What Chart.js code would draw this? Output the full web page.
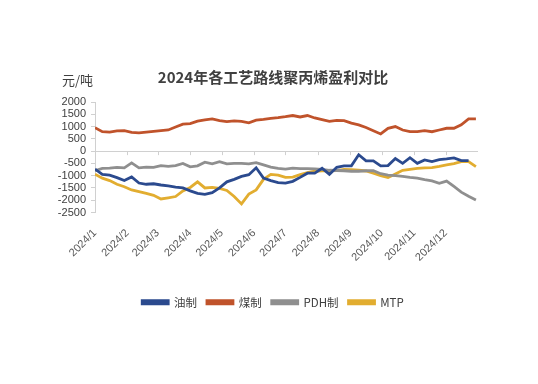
<!DOCTYPE html>
<html>
<head>
<meta charset="utf-8">
<script src="https://cdn.jsdelivr.net/npm/chart.js@4.4.7/dist/chart.umd.min.js"></script>
<style>
  body { margin: 0; background: #fff; }
</style>
</head>
<body>
<canvas id="chart" width="538" height="384"></canvas>
<script>
// sample days (day of year 2024, weekly)
const days = [0, 7, 14, 21, 28, 35, 42, 49, 56, 63, 70, 77, 84, 91, 98, 105, 112, 119, 126, 133, 140, 147, 154, 161, 168, 175,
    182, 189, 196, 203, 210, 217, 224, 231, 238, 245, 252, 259, 266, 273, 280, 287, 294, 301, 308, 315, 322, 329, 336, 343, 350, 357, 364];

const oil = [-730, -950, -980, -1080, -1200, -1050, -1300, -1350, -1330, -1380, -1420, -1470, -1500,
    -1620, -1720, -1760, -1690, -1500, -1250, -1150, -1030, -960, -680, -1100, -1200, -1280,
    -1300, -1230, -1070, -900, -900, -700, -950, -660, -600, -600, -150, -400, -400,
    -600, -590, -300, -500, -270, -500, -360, -430, -350, -320, -280, -390, -390, null];

const coal = [950, 790, 770, 820, 830, 760, 740, 770, 800, 830, 860, 980, 1100,
    1120, 1220, 1270, 1310, 1240, 1200, 1230, 1210, 1150, 1260, 1290, 1330, 1360,
    1400, 1450, 1390, 1450, 1350, 1280, 1210, 1250, 1240, 1140, 1070, 960, 830,
    700, 930, 1000, 860, 790, 790, 830, 790, 860, 930, 930, 1070, 1310, 1310];

const pdh = [-800, -700, -690, -660, -680, -480, -680, -650, -660, -590, -620, -590, -500,
    -640, -600, -450, -520, -430, -520, -500, -500, -520, -470, -560, -650, -700,
    -730, -690, -710, -710, -720, -740, -780, -790, -800, -820, -820, -800, -800,
    -920, -980, -1000, -1030, -1070, -1100, -1160, -1210, -1310, -1220, -1440, -1670, -1840, -1990];

const mtp = [-940, -1100, -1200, -1350, -1450, -1580, -1650, -1720, -1800, -1950, -1900, -1850, -1620,
    -1480, -1250, -1500, -1480, -1520, -1600, -1850, -2150, -1750, -1580, -1150, -950, -980,
    -1070, -1060, -960, -880, -820, -800, -800, -790, -740, -750, -780, -810, -900,
    -1000, -1080, -930, -780, -740, -700, -680, -670, -620, -560, -510, -430, -430, -630];

// month starts and their labels
const monthStarts = [0, 31, 60, 91, 121, 152, 182, 213, 244, 274, 305, 335];
const monthLabels = ['2024/1', '2024/2', '2024/3', '2024/4', '2024/5', '2024/6',
    '2024/7', '2024/8', '2024/9', '2024/10', '2024/11', '2024/12'];

const seriesNames = ['油制', '煤制', 'PDH制', 'MTP'];
const seriesColors = ['#2B4A8E', '#C0532B', '#8F8F8F', '#E2AD30'];

const toPoints = vals => vals.map((v, i) => ({ x: days[i], y: v }));

// unit label + small tick marks on the zero line
const extras = {
    id: 'extras',
    afterDraw(chart) {
        const { ctx, chartArea, scales } = chart;
        ctx.save();
        ctx.fillStyle = '#404040';
        ctx.font = '13px "Noto Sans CJK SC"';
        ctx.textBaseline = 'middle';
        ctx.textAlign = 'left';
        ctx.fillText('元/吨', chartArea.left - 33, chartArea.top - 22);

        const y0 = scales.y.getPixelForValue(0);
        ctx.strokeStyle = '#d0d0d0';
        ctx.lineWidth = 1;
        monthStarts.slice(1).forEach(d => {
            const x = Math.round(scales.x.getPixelForValue(d)) + 0.5;
            ctx.beginPath();
            ctx.moveTo(x, y0);
            ctx.lineTo(x, y0 + 4);
            ctx.stroke();
        });
        ctx.restore();
    }
};

new Chart(document.getElementById('chart'), {
    type: 'line',
    data: {
        datasets: [oil, coal, pdh, mtp].map((vals, i) => ({
            label: seriesNames[i],
            data: toPoints(vals),
            borderColor: seriesColors[i],
            backgroundColor: seriesColors[i],
            borderWidth: 2.8,
            pointRadius: 0,
            tension: 0,
            spanGaps: false
        }))
    },
    options: {
        responsive: false,
        animation: false,
        layout: { padding: { left: 68, right: 60, top: 0, bottom: 66 } },
        plugins: {
            title: {
                display: true,
                text: '2024年各工艺路线聚丙烯盈利对比',
                color: '#404040',
                font: { family: '"Noto Sans CJK SC"', size: 15, weight: 'bold' },
                padding: { top: 68, bottom: 16 }
            },
            legend: {
                position: 'bottom',
                labels: {
                    boxWidth: 26,
                    boxHeight: 3,
                    padding: 10,
                    color: '#404040',
                    font: { family: '"Noto Sans CJK SC"', size: 11.5 }
                }
            },
            tooltip: { enabled: false }
        },
        scales: {
            x: {
                type: 'linear',
                min: 0,
                max: 366,
                afterBuildTicks: scale => { scale.ticks = monthStarts.map(v => ({ value: v })); },
                afterFit: scale => { scale.height = 74; },
                grid: { display: false },
                border: { display: false },
                ticks: {
                    autoSkip: false,
                    minRotation: 45,
                    maxRotation: 45,
                    padding: 6,
                    color: '#595959',
                    font: { family: '"Liberation Sans"', size: 11 },
                    callback: (v, i) => monthLabels[i]
                }
            },
            y: {
                min: -2500,
                max: 2000,
                afterFit: scale => {
                    scale.width = 27;
                    // let the tick labels run left of the narrow scale box
                    scale._computeLabelArea = () => undefined;
                },
                border: { display: true, color: '#d0d0d0' },
                grid: {
                    color: c => (c.tick && c.tick.value === 0 ? '#d0d0d0' : 'rgba(0,0,0,0)'),
                    tickColor: '#d0d0d0',
                    tickLength: 4
                },
                ticks: {
                    stepSize: 500,
                    autoSkip: false,
                    padding: 5,
                    color: '#404040',
                    font: { family: '"Liberation Sans"', size: 11 },
                    callback: v => String(v)
                }
            }
        }
    },
    plugins: [extras]
});
</script>
</body>
</html>
